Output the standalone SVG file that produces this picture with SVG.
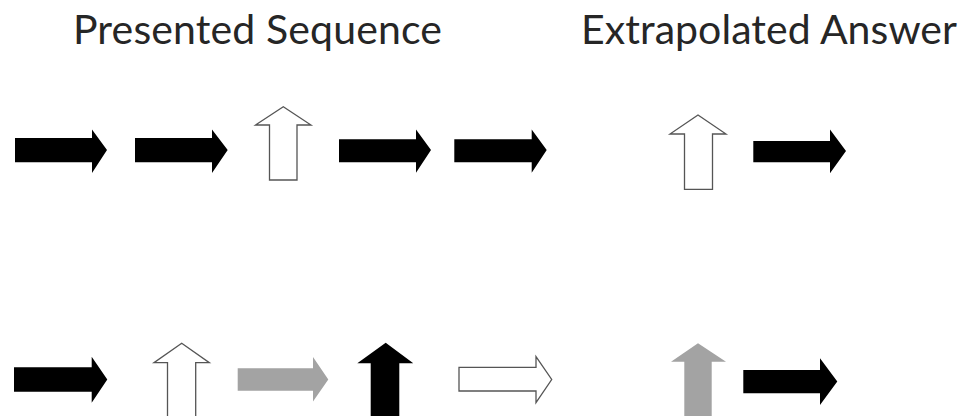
<svg xmlns="http://www.w3.org/2000/svg" width="968" height="416" viewBox="0 0 968 416">
<style>
.title{font-family:"Lato","Open Sans","Liberation Sans",sans-serif;font-size:41px;fill:#262626}
.blk{fill:#000}
.gry{fill:#a3a3a3}
.out{fill:#fff;stroke:#555;stroke-width:1.3}
</style>
<rect width="968" height="416" fill="#fff"/>
<g id="title-presented"><text class="title" x="73" y="44" textLength="369">Presented Sequence</text></g>
<g id="title-answer"><text class="title" x="581" y="44" textLength="376">Extrapolated Answer</text></g>
<g id="r1a1"><polygon class="blk" points="15,138 92,138 92,129.5 107,150 92,173 92,162.3 15,162.3"/></g>
<g id="r1a2"><polygon class="blk" points="135,138 212,138 212,129.5 227.7,150 212,173 212,162.3 135,162.3"/></g>
<g id="r1a3"><polygon class="out" points="269.5,180 269.5,125 255.5,125 283.3,106.7 311,125 297,125 297,180"/></g>
<g id="r1a4"><polygon class="blk" points="339,139.3 416,139.3 416,129.5 431,150 416,172.7 416,162.3 339,162.3"/></g>
<g id="r1a5"><polygon class="blk" points="454.3,139.3 531.7,139.3 531.7,129.5 546.7,150 531.7,172.7 531.7,162.3 454.3,162.3"/></g>
<g id="r1ans1"><polygon class="out" points="684.5,189.3 684.5,134 670,134 698,115 726,134 712.5,134 712.5,189.3"/></g>
<g id="r1ans2"><polygon class="blk" points="753.3,141 830,141 830,129.5 846,151 830,173.3 830,162.3 753.3,162.3"/></g>
<g id="r2a1"><polygon class="blk" points="14,367.3 91.7,367.3 91.7,356.7 107.3,379.5 91.7,402.7 91.7,391.7 14,391.7"/></g>
<g id="r2a2"><polygon class="out" points="167.5,420 167.5,362.7 154,362.7 181.7,343.3 209.3,362.7 195.7,362.7 195.7,420"/></g>
<g id="r2a3"><polygon class="gry" points="237.7,368.3 313,368.3 313,357 328.3,379.5 313,401.5 313,390.7 237.7,390.7"/></g>
<g id="r2a4"><polygon class="blk" points="370.7,420 370.7,363.3 357.3,363.3 385.7,342.7 413.3,363.3 399.3,363.3 399.3,420"/></g>
<g id="r2a5"><polygon class="out" points="459,367.3 536,367.3 536,356.7 551.7,379.5 536,402.7 536,391 459,391"/></g>
<g id="r2ans1"><polygon class="gry" points="684.3,420 684.3,361.7 671,361.7 698,343.3 726,361.7 711.7,361.7 711.7,420"/></g>
<g id="r2ans2"><polygon class="blk" points="743.3,370 820,370 820,358.3 837.3,381.5 820,405 820,393.3 743.3,393.3"/></g>
<g id="connectors"/>
</svg>
